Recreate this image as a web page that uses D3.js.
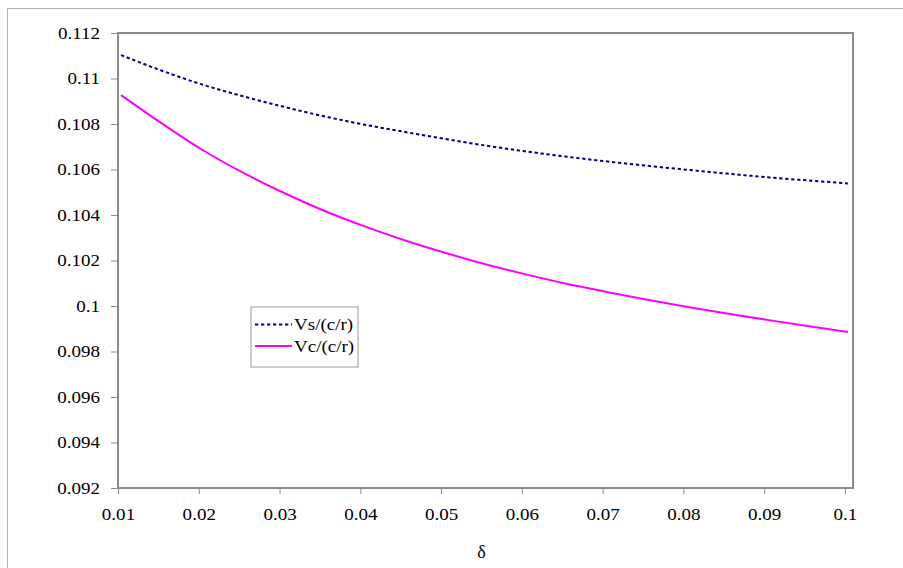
<!DOCTYPE html>
<html>
<head>
<meta charset="utf-8">
<script src="https://cdn.jsdelivr.net/npm/d3@7/dist/d3.min.js"></script>
<style>
  html, body { margin: 0; padding: 0; background: #fff; }
  svg text { font-family: "Liberation Serif", "Times New Roman", serif; fill: #000; }
</style>
</head>
<body>
<svg id="chart" width="903" height="568" font-family="Liberation Serif, Times New Roman, serif"></svg>
<script>
// ---- data ----
const delta = [0.010, 0.015, 0.020, 0.025, 0.030, 0.035, 0.040, 0.045, 0.050, 0.055,
               0.060, 0.065, 0.070, 0.075, 0.080, 0.085, 0.090, 0.095, 0.100];
const vs = [0.11103, 0.11035, 0.10974, 0.10923, 0.10877, 0.10835, 0.10798, 0.10766, 0.10735, 0.10706,
            0.10680, 0.10657, 0.10636, 0.10617, 0.10599, 0.10582, 0.10566, 0.10552, 0.10539];
const vc = [0.10927, 0.10804, 0.10688, 0.10588, 0.10500, 0.10421, 0.10352, 0.10290, 0.10235, 0.10185,
            0.10140, 0.10099, 0.10063, 0.10029, 0.09997, 0.09967, 0.09939, 0.09912, 0.09886];
const seriesNames = ["Vs/(c/r)", "Vc/(c/r)"];
const xTicks = [0.01, 0.02, 0.03, 0.04, 0.05, 0.06, 0.07, 0.08, 0.09, 0.1];
const yTicks = [0.092, 0.094, 0.096, 0.098, 0.1, 0.102, 0.104, 0.106, 0.108, 0.11, 0.112];
const xTitle = "δ";

// ---- layout ----
const svg = d3.select("#chart");
const L = 118, R = 853, T = 33, B = 488;
const SERIF = "Liberation Serif, Times New Roman, serif";
const SX = 1.12; // horizontal stretch of the text, as in the original

const x = d3.scaleLinear().domain([0.01, 0.101]).range([L, R]);
const y = d3.scaleLinear().domain([0.092, 0.112]).range([B, T]);

// outer frame (top and left edges visible)
svg.append("path")
  .attr("d", `M7.5,568 L7.5,8.5 L903,8.5`)
  .attr("fill", "none").attr("stroke", "#b0b0b0").attr("stroke-width", 1);

// plot area border
svg.append("rect")
  .attr("x", L).attr("y", T).attr("width", R - L).attr("height", B - T)
  .attr("fill", "#fff").attr("stroke", "#8c8c8c").attr("stroke-width", 2);

// axes
const fmt = d => String(+d.toFixed(3));
const yAxis = svg.append("g").attr("transform", `translate(${L},0)`)
  .call(d3.axisLeft(y).tickValues(yTicks).tickFormat(fmt).tickSize(7).tickPadding(9));
const xAxis = svg.append("g").attr("transform", `translate(0,${B})`)
  .call(d3.axisBottom(x).tickValues(xTicks).tickFormat(fmt).tickSize(6).tickPadding(14));

[yAxis, xAxis].forEach(g => {
  g.attr("font-family", SERIF).attr("font-size", 17);
  g.select(".domain").remove();
  g.selectAll(".tick line").attr("stroke", "#8c8c8c").attr("stroke-width", 1);
  g.selectAll(".tick text").attr("font-size", 17).attr("font-family", SERIF).attr("fill", "#000");
});
yAxis.selectAll(".tick text").attr("x", -18 / SX).attr("transform", `scale(${SX},1)`);
xAxis.selectAll(".tick text").attr("transform", `scale(${SX},1)`);

// axis title
svg.append("text").attr("x", (x(0.01) + x(0.1)) / 2).attr("y", 558)
  .attr("text-anchor", "middle").attr("font-size", 18).attr("font-family", SERIF).text(xTitle);

// lines
const pts = vals => delta.map((d, i) => [d, vals[i]]);
const line = d3.line().x(d => x(d[0])).y(d => y(d[1])).curve(d3.curveMonotoneX);

const lines = svg.append("g").attr("transform", "translate(3,0)");
lines.append("path").datum(pts(vs))
  .attr("d", line).attr("fill", "none")
  .attr("stroke", "#000080").attr("stroke-width", 2).attr("stroke-dasharray", "3.3,2.7");

lines.append("path").datum(pts(vc))
  .attr("d", line).attr("fill", "none")
  .attr("stroke", "#ff00ff").attr("stroke-width", 2);

// legend
const lg = svg.append("g").attr("transform", "translate(251,307)");
lg.append("rect").attr("x", 0).attr("y", 0).attr("width", 107).attr("height", 60)
  .attr("fill", "#fff").attr("stroke", "#9a9a9a").attr("stroke-width", 1);
const legendStyles = [
  { stroke: "#000080", dash: "3.3,2.7" },
  { stroke: "#ff00ff", dash: null }
];
seriesNames.forEach((name, i) => {
  const yy = 17.5 + i * 21.5;
  lg.append("line").attr("x1", 4).attr("x2", 41).attr("y1", yy).attr("y2", yy)
    .attr("stroke", legendStyles[i].stroke).attr("stroke-width", 2)
    .attr("stroke-dasharray", legendStyles[i].dash);
  lg.append("text").attr("x", 43 / SX).attr("y", yy + 6).attr("font-size", 17)
    .attr("transform", `scale(${SX},1)`)
    .attr("font-family", SERIF).text(name);
});
</script>
</body>
</html>
